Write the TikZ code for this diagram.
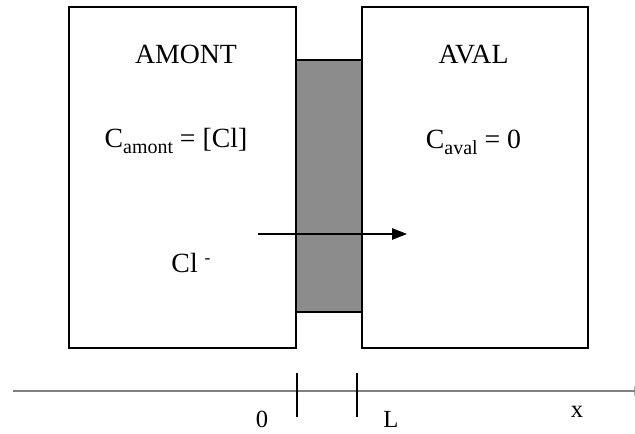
\documentclass[tikz,border=0pt]{standalone}
\usepackage{fontspec}
\setmainfont{Liberation Serif}
\colorlet{MembraneFill}{black!45}
\colorlet{AxisLine}{black!50}
\usetikzlibrary{arrows.meta}
\newcommand{\lowtext}[1]{\raisebox{-0.2em}{\fontsize{22.7}{24}\selectfont #1}}
\newcommand{\hightext}[1]{\raisebox{0.35em}{\fontsize{20}{22}\selectfont #1}}

\begin{document}
\begin{tikzpicture}[
    boxtext/.style = {font=\fontsize{31.6}{38}\selectfont, anchor=base, inner sep=0pt},
    axistext/.style = {font=\fontsize{28}{34}\selectfont, anchor=base, inner sep=0pt},
    boxline/.style = {line width=2.2pt},
]

\useasboundingbox (0, 0) rectangle (25.4, 17.36);

\coordinate (A) at (2.76, 3.44);
\coordinate (B) at (11.84, 17.08);
\coordinate (C) at (14.48, 3.44);
\coordinate (D) at (23.52, 17.08);
\coordinate (E) at (11.84, 4.88);
\coordinate (F) at (14.48, 14.96);
\draw[fill = MembraneFill, line width=1.8pt] (E) rectangle (F);
\draw[boxline] (A) rectangle (B);
\draw[boxline] (C) rectangle (D);

\node[boxtext] (amont) at (7.44, 14.8) {AMONT};
\node[boxtext] (camont) at (7.04, 11.44) {C\lowtext{amont} = [Cl]};
\node[boxtext] (aval) at (18.94, 14.8) {AVAL};
\node[boxtext] (caval) at (18.94, 11.4) {C\lowtext{aval} = 0};
\node[boxtext] (ion) at (7.64, 6.44) {Cl \hightext{-}};

\coordinate (flux0) at (10.32, 8.0);
\coordinate (flux1) at (16.28, 8.0);
\draw[line width=1.4pt, -{Triangle[length=17pt, width=13pt]}] (flux0) -- (flux1);

% axe des x
\coordinate (xmin) at (0.52, 1.72);
\coordinate (xmax) at (25.8, 1.72);
\draw[AxisLine, line width=1.6pt, -{Triangle[length=12pt, width=10pt]}] (xmin) -- (xmax);
\coordinate (O1) at (11.88, 0.68);
\coordinate (O2) at (11.88, 2.44);
\coordinate (L1) at (14.28, 0.68);
\coordinate (L2) at (14.28, 2.44);
\draw[line width=2pt] (O1) -- (O2);
\draw[line width=2pt] (L1) -- (L2);

\node[axistext] (zero) at (10.48, 0.26) {0};
\node[axistext] (ell) at (15.64, 0.26) {L};
\node[axistext] (xlab) at (23.08, 0.64) {x};

\end{tikzpicture}
\end{document}
